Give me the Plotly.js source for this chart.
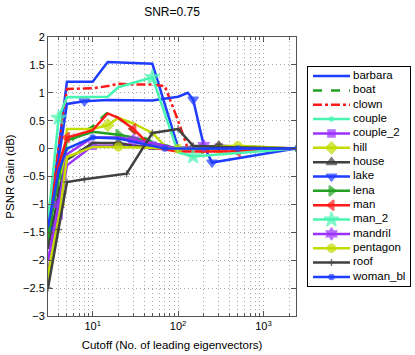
<!DOCTYPE html>
<html>
<head>
<meta charset="utf-8">
<script src="https://cdn.plot.ly/plotly-3.0.1.min.js"></script>
<style>
  html, body { margin: 0; padding: 0; background: #fff; }
  #chart { width: 415px; height: 355px; }
</style>
</head>
<body>
<div id="chart"></div>
<script>
// cutoff values (shared x grid); null in a series means no point there
var cutoff = [3, 4, 5, 8, 10, 15, 20, 25, 30, 50, 70, 100, 130, 150, 200, 250, 300, 500, 2400];

var barbara  = [-1.5, null, 1.2, null, 1.2, 1.55, null, null, null, 1.52, null, 0.02, null, null, null, null, null, null, 0];
var boat     = [-1.7, -0.6, 0.1, 0.3, 0.4, 0.65, 0.55, null, 0.3, 0.12, null, 0, null, null, null, null, -0.03, null, 0];
var clown    = [-1.2, 0.0, 1.07, 1.08, 1.08, 1.12, 1.16, null, 1.15, 1.15, 1.12, 0.5, 0.0, null, null, null, -0.04, null, 0];
var couple   = [-1.5, -0.5, 0.0, null, 0.2, null, 0.2, null, null, 0.1, null, 0.0, null, null, null, null, null, null, 0];
var couple2  = [-2.2, -1.2, -0.3, null, 0.05, null, 0.05, null, null, 0.05, null, -0.02, null, null, null, null, 0.02, null, 0];
var hill     = [-2.3, -1.0, 0.35, null, 0.35, 0.42, 0.55, null, 0.45, 0.28, 0.05, 0.0, null, null, null, null, 0.0, null, 0];
var house    = [-1.8, -0.8, -0.2, null, 0.1, null, 0.1, null, null, 0.0, null, 0.0, null, null, null, null, 0.05, null, 0];
var lake     = [-1.45, null, 0.8, 0.85, null, 0.87, null, null, null, 0.86, null, 0.93, 1.0, 0.88, 0.05, -0.25, null, null, 0];
var lena     = [-1.6, -0.5, 0.15, null, 0.3, null, 0.25, null, 0.2, 0.1, null, 0.0, null, null, 0.0, null, null, null, 0];
var man      = [-1.2, -0.3, 0.2, null, 0.33, 0.63, 0.55, null, 0.35, 0.02, null, -0.05, null, null, null, null, null, -0.05, 0];
var man2     = [-1.3, 0.55, 0.92, null, 0.92, 0.93, 1.1, null, null, 1.28, null, -0.07, null, -0.14, null, null, null, null, 0];
var mandril  = [-2.0, -1.0, -0.1, null, 0.2, null, 0.2, null, 0.15, 0.1, null, 0.0, null, null, 0.05, null, 0.0, null, 0];
var pentagon = [-2.4, -1.3, -0.15, null, 0.03, null, 0.03, null, null, 0.02, null, 0.0, null, null, null, null, null, 0.05, 0];
var roof     = [-2.5, -1.45, -0.6, -0.55, null, null, null, -0.45, null, 0.28, null, 0.35, null, 0.05, null, null, 0.03, null, 0];
var womanBl  = [-1.4, -0.4, 0.0, null, 0.2, null, 0.18, null, null, 0.05, 0.0, 0.0, null, null, null, null, null, 0.0, 0];

var names = ['barbara', 'boat', 'clown', 'couple', 'couple_2', 'hill', 'house', 'lake',
             'lena', 'man', 'man_2', 'mandril', 'pentagon', 'roof', 'woman_bl'];
var values = [barbara, boat, clown, couple, couple2, hill, house, lake,
              lena, man, man2, mandril, pentagon, roof, womanBl];

// styles: colour, dash, marker symbol, marker size, indices that carry a marker
var BLUE = '#1f3dff', GREEN = '#22a022', RED = '#ff1a1a', AQUA = '#48f5b0',
    PURPLE = '#9b30ff', YEL = '#c2dc00', GRAY = '#404040';
var styles = [
  {c: BLUE,   dash: 'solid',   sym: 'circle',         sz: 0,  mk: []},
  {c: GREEN,  dash: 'dash',    sym: 'circle',         sz: 0,  mk: []},
  {c: RED,    dash: 'dashdot', sym: 'circle',         sz: 0,  mk: []},
  {c: AQUA,   dash: 'solid',   sym: 'circle',         sz: 4,  mk: 'all'},
  {c: PURPLE, dash: 'solid',   sym: 'square',         sz: 7,  mk: [1, 4, 9, 16]},
  {c: YEL,    dash: 'solid',   sym: 'diamond',        sz: 9,  mk: [1, 5, 16]},
  {c: GRAY,   dash: 'solid',   sym: 'triangle-up',    sz: 9,  mk: [1, 6, 16]},
  {c: BLUE,   dash: 'solid',   sym: 'triangle-down',  sz: 9,  mk: [0, 3, 13, 15]},
  {c: GREEN,  dash: 'solid',   sym: 'triangle-right', sz: 9,  mk: [1, 6, 14]},
  {c: RED,    dash: 'solid',   sym: 'triangle-left',  sz: 9,  mk: [2, 8, 17]},
  {c: AQUA,   dash: 'solid',   sym: 'star',           sz: 11, mk: [1, 9, 13]},
  {c: PURPLE, dash: 'solid',   sym: 'hexagram',       sz: 9,  mk: [1, 8, 14]},
  {c: YEL,    dash: 'solid',   sym: 'circle',         sz: 8,  mk: [6, 11, 17]},
  {c: GRAY,   dash: 'solid',   sym: 'cross-thin',     sz: 5,  mk: 'all'},
  {c: BLUE,   dash: 'solid',   sym: 'circle',         sz: 5,  mk: [4, 10, 17]}
];

var traces = [];
names.forEach(function (nm, i) {
  var st = styles[i];
  var sizes = cutoff.map(function (_, k) {
    return (st.mk === 'all' || st.mk.indexOf(k) >= 0) ? st.sz : 0;
  });
  traces.push({
    x: cutoff, y: values[i], name: nm, type: 'scatter', mode: 'lines+markers',
    connectgaps: true, showlegend: false, hoverinfo: 'skip',
    line: {color: st.c, width: 2.5, dash: st.dash},
    marker: {symbol: st.sym, size: sizes, color: st.c, line: {color: st.c, width: 1.5}},
    xaxis: 'x', yaxis: 'y'
  });
});

// compact legend drawn on its own small axes
names.forEach(function (nm, i) {
  var st = styles[i];
  traces.push({
    x: [5, 23.5, 42], y: [i, i, i],
    type: 'scatter', mode: 'lines+markers',
    showlegend: false, hoverinfo: 'skip', cliponaxis: false,
    line: {color: st.c, width: 2.5, dash: st.dash},
    marker: {symbol: st.sym, size: [0, st.sz, 0], color: st.c, line: {color: st.c, width: 1.5}},
    xaxis: 'x2', yaxis: 'y2'
  });
});
traces.push({
  x: names.map(function () { return 45; }), y: names.map(function (_, i) { return i; }),
  text: names, type: 'scatter', mode: 'text', textposition: 'middle right',
  textfont: {family: 'Liberation Sans, Arial, sans-serif', size: 11.5, color: '#000'},
  showlegend: false, hoverinfo: 'skip', cliponaxis: false, xaxis: 'x2', yaxis: 'y2'
});

var minorVals = [];
[1, 10, 100, 1000].forEach(function (d) {
  for (var k = 2; k <= 9; k++) {
    if (k * d > 3 && k * d < 2400) minorVals.push(k * d);
  }
});

var W = 362;
var FONT = 'Liberation Sans, Arial, sans-serif';
var GRID = '#a8a8a8', GDASH = '1px,3px';
var layout = {
  width: 415, height: 355,
  margin: {l: 48, r: 5, t: 37, b: 39},
  paper_bgcolor: '#fff', plot_bgcolor: '#fff',
  font: {family: FONT, size: 11, color: '#000'},
  title: {text: 'SNR=0.75', font: {family: FONT, size: 12}, xref: 'paper',
          x: 124 / W, xanchor: 'center', yref: 'container', y: 1 - 12 / 355, yanchor: 'middle'},
  xaxis: {
    type: 'log', domain: [0, 248 / W], range: [Math.log10(3), Math.log10(2400)],
    tickmode: 'array', tickvals: [10, 100, 1000],
    ticktext: ['10<sup>1</sup>', '10<sup>2</sup>', '10<sup>3</sup>'],
    ticks: 'inside', ticklen: 5, tickcolor: '#555', showline: true, linecolor: '#555',
    mirror: 'allticks', showgrid: true, gridcolor: GRID, griddash: GDASH, gridwidth: 1,
    minor: {tickmode: 'array', tickvals: minorVals, ticks: 'inside', ticklen: 3, tickcolor: '#555',
            showgrid: true, gridcolor: GRID, griddash: GDASH, gridwidth: 1},
    zeroline: false, tickfont: {size: 11},
    title: {text: 'Cutoff (No. of leading eigenvectors)', font: {size: 11.5}, standoff: 9}
  },
  yaxis: {
    range: [-3, 2], dtick: 0.5, tick0: 0,
    ticks: 'inside', ticklen: 5, tickcolor: '#555', showline: true, linecolor: '#555',
    mirror: 'ticks', showgrid: true, gridcolor: GRID, griddash: GDASH, gridwidth: 1,
    zeroline: false, tickfont: {size: 11},
    title: {text: 'PSNR Gain (dB)', font: {size: 11.5}, standoff: 6}
  },
  xaxis2: {
    domain: [260 / W, 1], range: [0, 102], anchor: 'y2',
    showgrid: false, zeroline: false, showticklabels: false, ticks: '',
    showline: true, mirror: true, linecolor: '#000', linewidth: 1
  },
  yaxis2: {
    domain: [30 / 279, 249 / 279], range: [14.63, -0.63], anchor: 'x2',
    showgrid: false, zeroline: false, showticklabels: false, ticks: '',
    showline: true, mirror: true, linecolor: '#000', linewidth: 1
  }
};

Plotly.newPlot('chart', traces, layout, {staticPlot: true});
</script>
</body>
</html>
